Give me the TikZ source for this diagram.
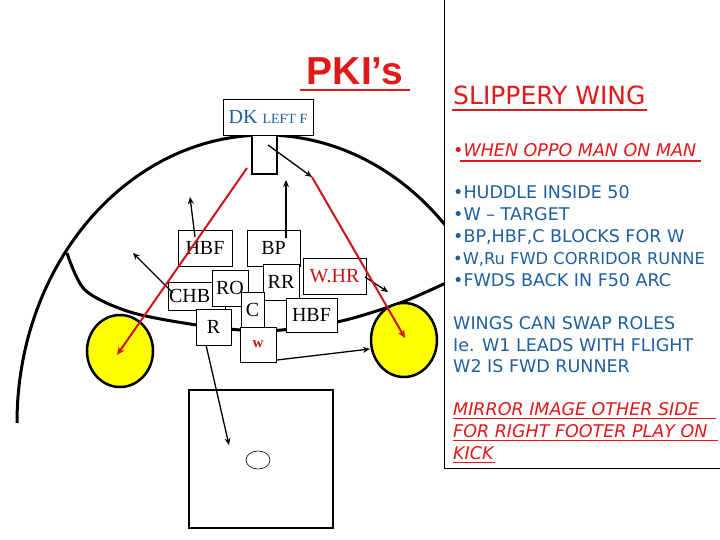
\documentclass[tikz,border=0pt]{standalone}
\usepackage{fontspec}
\setmainfont{Liberation Serif}
\newfontfamily\comic{DejaVu Sans}
\newfontfamily\arialf{Liberation Sans}
\usetikzlibrary{arrows.meta}
\definecolor{tblue}{RGB}{30,95,160}
\definecolor{tred}{RGB}{225,25,25}
\definecolor{ayel}{RGB}{255,255,0}
\tikzset{
  bx/.style={draw,line width=0.8pt,fill=white,inner sep=0pt,font=\fontsize{20}{20}\selectfont},
  thk/.style={line width=3pt},
  blk/.style={line width=1.3pt,-{Stealth[length=7pt,width=6pt]}},
  redar/.style={line width=2pt,draw=tred!90!black,-{Stealth[length=8pt,width=7pt]}},
  blue/.style={anchor=base west,text=tblue,inner sep=0pt,font=\comic\fontsize{17.5}{17.5}\selectfont},
  redt/.style={anchor=base west,text=tred,inner sep=0pt,font=\comic\itshape\fontsize{17.5}{17.5}\selectfont},
}
\begin{document}
\begin{tikzpicture}[x=1pt,y=-1pt]
\useasboundingbox (0,0) rectangle (720,540);
% field
\draw[thk] (17,423) arc[start angle=180,end angle=322,x radius=248,y radius=288];
\draw[thk] plot[smooth] coordinates {(67,253) (85,290) (130,312) (197,325) (265,331) (337,322) (400,303) (450,281)};
\draw[line width=2.5pt,fill=ayel] (120,351) ellipse[x radius=33,y radius=36];
\draw[line width=2.5pt,fill=ayel] (404,340) ellipse[x radius=33,y radius=37];
\draw[line width=2.5pt] (189,390) rectangle (333,528);
\draw[line width=0.6pt] (258,460) ellipse[x radius=12,y radius=9];
% post
\draw[line width=2.5pt,fill=white] (252,135) rectangle (277,174);
% title
\node[anchor=base,text=tred,inner sep=0pt,font=\arialf\bfseries\fontsize{39}{39}\selectfont] (title) at (355,85) {PKI’s};
\draw[tred,line width=2.5pt] (300,90) -- (410,90);
% boxes
\node[bx,minimum width=90,minimum height=36,text=tblue] (dk) at (268,117) {DK \fontsize{14}{14}\selectfont LEFT F};
\node[bx,minimum width=54,minimum height=36] (hbf) at (205,248) {HBF};
\node[bx,minimum width=53,minimum height=36] (bp) at (273.5,248) {BP};
\node[bx,minimum width=63,minimum height=36,text=tred!85!black] (whr) at (334.5,276) {W.HR};
\node[bx,minimum width=57,minimum height=28,align=left,text width=55,inner xsep=1pt] (chb) at (196.5,296) {CHB};
\node[bx,minimum width=36,minimum height=36] (ro) at (230,288) {RO};
\node[bx,minimum width=36,minimum height=36] (rr) at (281,282) {RR};
\node[bx,minimum width=23,minimum height=36] (c) at (252.5,310) {C};
\node[bx,minimum width=51,minimum height=34] (hbf2) at (311.5,315) {HBF};
\node[bx,minimum width=35,minimum height=36] (r) at (213.5,327) {R};
\node[bx,minimum width=36,minimum height=35,text=tred!85!black,font=\bfseries\fontsize{15}{15}\selectfont] (w) at (258,344.5) {w};
% coordinates
\coordinate (k1) at (247,168);
\coordinate (lt) at (117,355);
\coordinate (k2) at (268,145);
\coordinate (k3) at (312,177);
\coordinate (rt) at (405,338);
\coordinate (bpt) at (286,180);
\coordinate (hbt) at (190,197);
\coordinate (cht) at (133,253);
\coordinate (wht) at (388,292);
\coordinate (wt) at (370,349);
\coordinate (rtg) at (229,445);
% arrows
\draw[blk] (286,238) -- (bpt);
\draw[blk] (195,237) -- (hbt);
\draw[blk] (173,293) -- (cht);
\draw[blk] (365,277) -- (wht);
\draw[blk] (277,360) -- (wt);
\draw[blk] (206,345) -- (rtg);
\draw[blk] (k2) -- (k3);
\draw[redar] (k1) -- (lt);
\draw[redar] (k3) -- (rt);
% panel
\fill[white] (444.5,-2) rectangle (722,468);
\begin{scope}
\clip (444,-2) rectangle (720,470);
\draw[line width=1pt] (444.5,-2) -- (444.5,468) -- (722,468);
\node[anchor=base west,text=tred,inner sep=0pt,font=\comic\fontsize{25}{25}\selectfont] (sw) at (453,105) {SLIPPERY WING};
\draw[tred,line width=1.5pt] (452,110) -- (647,110);
\node[redt] (t1) at (453,157) {•WHEN OPPO MAN ON MAN};
\draw[tred,line width=1.3pt] (460,161) -- (701,161);
\node[blue] (b1) at (453,199) {•HUDDLE INSIDE 50};
\node[blue] (b2) at (453,221) {•W – TARGET};
\node[blue] (b3) at (453,243) {•BP,HBF,C BLOCKS FOR W};
\node[blue,font=\comic\fontsize{16.3}{16.3}\selectfont] (b4) at (453,264) {•W,Ru FWD CORRIDOR RUNNE};
\node[blue] (b5) at (453,286) {•FWDS BACK IN F50 ARC};
\node[blue] (b6) at (453,329) {WINGS CAN SWAP ROLES};
\node[blue] (b7) at (453,351) {Ie. W1 LEADS WITH FLIGHT};
\node[blue] (b8) at (453,372) {W2 IS FWD RUNNER};
\node[redt] (r1) at (453,415) {MIRROR IMAGE OTHER SIDE};
\node[redt] (r2) at (453,437) {FOR RIGHT FOOTER PLAY ON};
\node[redt] (r3) at (453,459) {KICK};
\draw[tred,line width=1pt] (453,418) -- (716,418);
\draw[tred,line width=1pt] (453,440) -- (718,440);
\draw[tred,line width=1pt] (453,462) -- (495,462);
\end{scope}
\end{tikzpicture}
\end{document}
